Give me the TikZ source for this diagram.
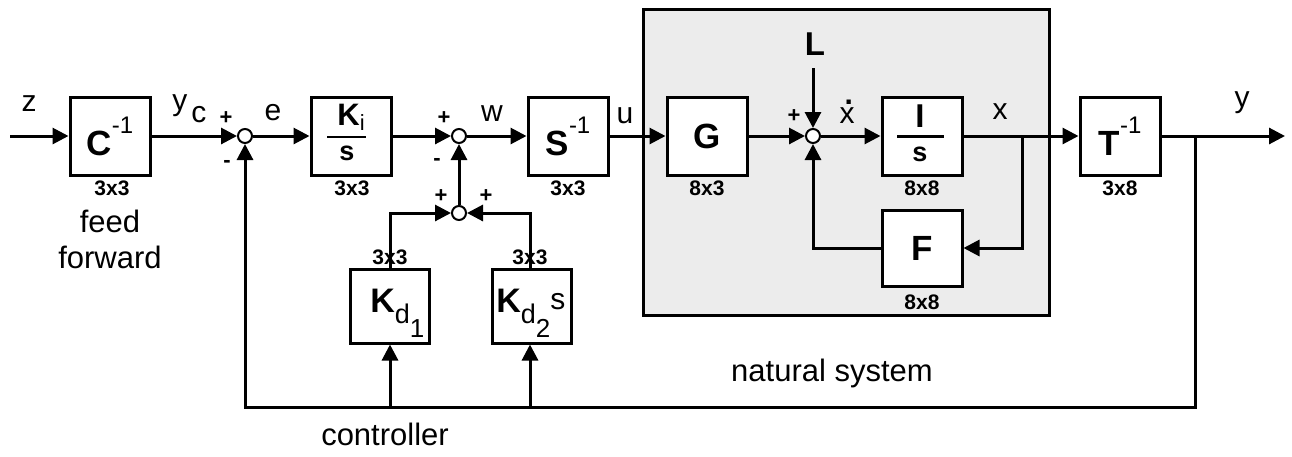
\documentclass[tikz,border=0pt]{standalone}
\usepackage{fontspec}
\setmainfont{Liberation Sans}
\usetikzlibrary{arrows.meta,calc}
\newcommand{\fs}[1]{\fontsize{#1}{#1}\selectfont}
\begin{document}
\begin{tikzpicture}[x=0.5pt,y=-0.5pt,
  blk/.style={draw, line width=1.5pt, fill=white, minimum width=40pt, minimum height=39pt, inner sep=0pt, font=\fs{17.5}\bfseries},
  sumj/.style={draw, circle, line width=1pt, fill=white, minimum size=7pt, inner sep=0pt},
  wire/.style={line width=1.5pt},
  arr/.style={wire, -{Triangle[length=8pt,width=8pt]}},
  lbl/.style={font=\fs{15}, inner sep=0pt},
  txtlbl/.style={font=\fs{15.5}, inner sep=0pt},
  dimlbl/.style={font=\fs{10.5}\bfseries, inner sep=0pt},
  sgn/.style={font=\fs{11}\bfseries, inner sep=0pt},
  inlbl/.style={inner sep=0pt},
]
\useasboundingbox (0,0) rectangle (1292,456);

% natural system background
\node[draw, line width=1.5pt, fill=gray!15, minimum width=203pt, minimum height=153pt, inner sep=0pt] (nat) at (846,162) {};

% blocks
\node[blk] (C) at (110,136) {C\raisebox{11pt}{\mdseries\fs{12}-1}};
\node[blk] (Ki) at (351,136) {};
\node[inlbl, font=\fs{15.5}\bfseries] (KiN) at (351,117) {K\raisebox{-2.5pt}{\mdseries\fs{11}i}};
\node[inlbl, font=\fs{13.5}\bfseries] (KiD) at (347,153) {s};
\draw[line width=1pt] (327,137) -- (366,137);
\node[blk] (S) at (568,136) {S\raisebox{11pt}{\mdseries\fs{12}-1}};
\node[blk] (G) at (707,136) {G};
\node[blk] (I) at (922,136) {};
\node[inlbl, font=\fs{16.5}\bfseries] (IN) at (920,116) {I};
\node[inlbl, font=\fs{13.5}\bfseries] (ID) at (920,154) {s};
\draw[line width=1.5pt] (897,136) -- (944,136);
\node[blk, minimum height=38pt] (F) at (922,248) {F};
\node[blk] (T) at (1120,136) {T\raisebox{11pt}{\mdseries\fs{12}-1}};
\node[blk, minimum width=39.5pt, minimum height=37pt] (Kd1) at (389.5,306) {};
\node[blk, minimum width=39.5pt, minimum height=37pt] (Kd2) at (531.5,306) {};
\node[inlbl, font=\fs{17}\bfseries, anchor=base west] (Kd1t) at (370,312) {K\raisebox{-5.5pt}{\mdseries\fs{13.5}d}\raisebox{-12.5pt}{\mdseries\fs{13}1}};
\node[inlbl, font=\fs{17}\bfseries, anchor=base west] (Kd2t) at (496,312) {K\raisebox{-5.5pt}{\mdseries\fs{13.5}d}\raisebox{-12.5pt}{\mdseries\fs{13}2}\raisebox{1.5pt}{\mdseries\fs{15}s}};

% summing junctions
\node[sumj] (s1) at (245,136) {};
\node[sumj] (s2) at (459,136) {};
\node[sumj] (s3) at (459,213) {};
\node[sumj] (s4) at (813,136) {};

% coordinates
\coordinate (in) at (10,136);
\coordinate (out) at (1285,136);
\coordinate (Lin) at (813,68);
\coordinate (bx) at (1022,136);
\coordinate (by) at (1195,136);
\coordinate (fb) at (1195,407);
\coordinate (fbl) at (245,407);
\coordinate (k1b) at (390,407);
\coordinate (k2b) at (530,407);

% connectors
\draw[arr] (in) -- (C.west);
\draw[arr] (C.east) -- (s1.west);
\draw[arr] (s1.east) -- (Ki.west);
\draw[arr] (Ki.east) -- (s2.west);
\draw[arr] (s2.east) -- (S.west);
\draw[arr] (S.east) -- (G.west);
\draw[arr] (G.east) -- (s4.west);
\draw[arr] (s4.east) -- (I.west);
\draw[arr] (I.east) -- (T.west);
\draw[arr] (T.east) -- (out);
\draw[arr] (Lin) -- (s4.north);
\draw[arr] (bx) |- (F.east);
\draw[arr] (F.west) -| (s4.south);
\draw[arr] (s3.north) -- (s2.south);
\draw[arr] (Kd1.north -| k1b) |- (s3.west);
\draw[arr] (Kd2.north -| k2b) |- (s3.east);
\draw[arr] (by) -- (fb) -- (fbl) -- (s1.south);
\draw[arr] (k1b) -- (Kd1.south -| k1b);
\draw[arr] (k2b) -- (Kd2.south -| k2b);

% signal labels
\node[lbl] (lz) at (29,104) {z};
\node[lbl, anchor=base west] (lyc) at (172,110) {y\hspace{2pt}\raisebox{-6pt}{c}};
\node[lbl] (le) at (273,113) {e};
\node[lbl] (lw) at (492,114) {w};
\node[lbl] (lu) at (625,116) {u};
\node[lbl, font=\fs{16.5}\bfseries] (lL) at (815,44) {L};
\node[lbl] (lxd) at (847,112) {\rlap{\raisebox{0.62em}{\hspace{0.17em}\bfseries .}}x};
\node[lbl] (lx) at (1000,112) {x};
\node[lbl] (ly) at (1242,103) {y};

% signs
\node[sgn] (p1) at (226,118) {+};
\node[sgn] (m1) at (227,164) {-};
\node[sgn] (p2) at (444,118) {+};
\node[sgn] (m2) at (437,162) {-};
\node[sgn] (p3) at (441,196) {+};
\node[sgn] (p4) at (486,196) {+};
\node[sgn] (p5) at (794,116) {+};

% dimension labels
\node[dimlbl] (dC) at (112,188) {3x3};
\node[dimlbl] (dKi) at (352,188) {3x3};
\node[dimlbl] (dS) at (568,188) {3x3};
\node[dimlbl] (dG) at (707,188) {8x3};
\node[dimlbl] (dI) at (922,188) {8x8};
\node[dimlbl] (dF) at (922,302) {8x8};
\node[dimlbl] (dT) at (1120,188) {3x8};
\node[dimlbl] (dK1) at (390,257) {3x3};
\node[dimlbl] (dK2) at (530,257) {3x3};

% captions
\node[txtlbl] (tfeed) at (110,221) {feed};
\node[txtlbl] (tfwd) at (110,257) {forward};
\node[txtlbl] (tnat) at (832,373) {natural system};
\node[txtlbl] (tctl) at (385,434) {controller};
\end{tikzpicture}
\end{document}
